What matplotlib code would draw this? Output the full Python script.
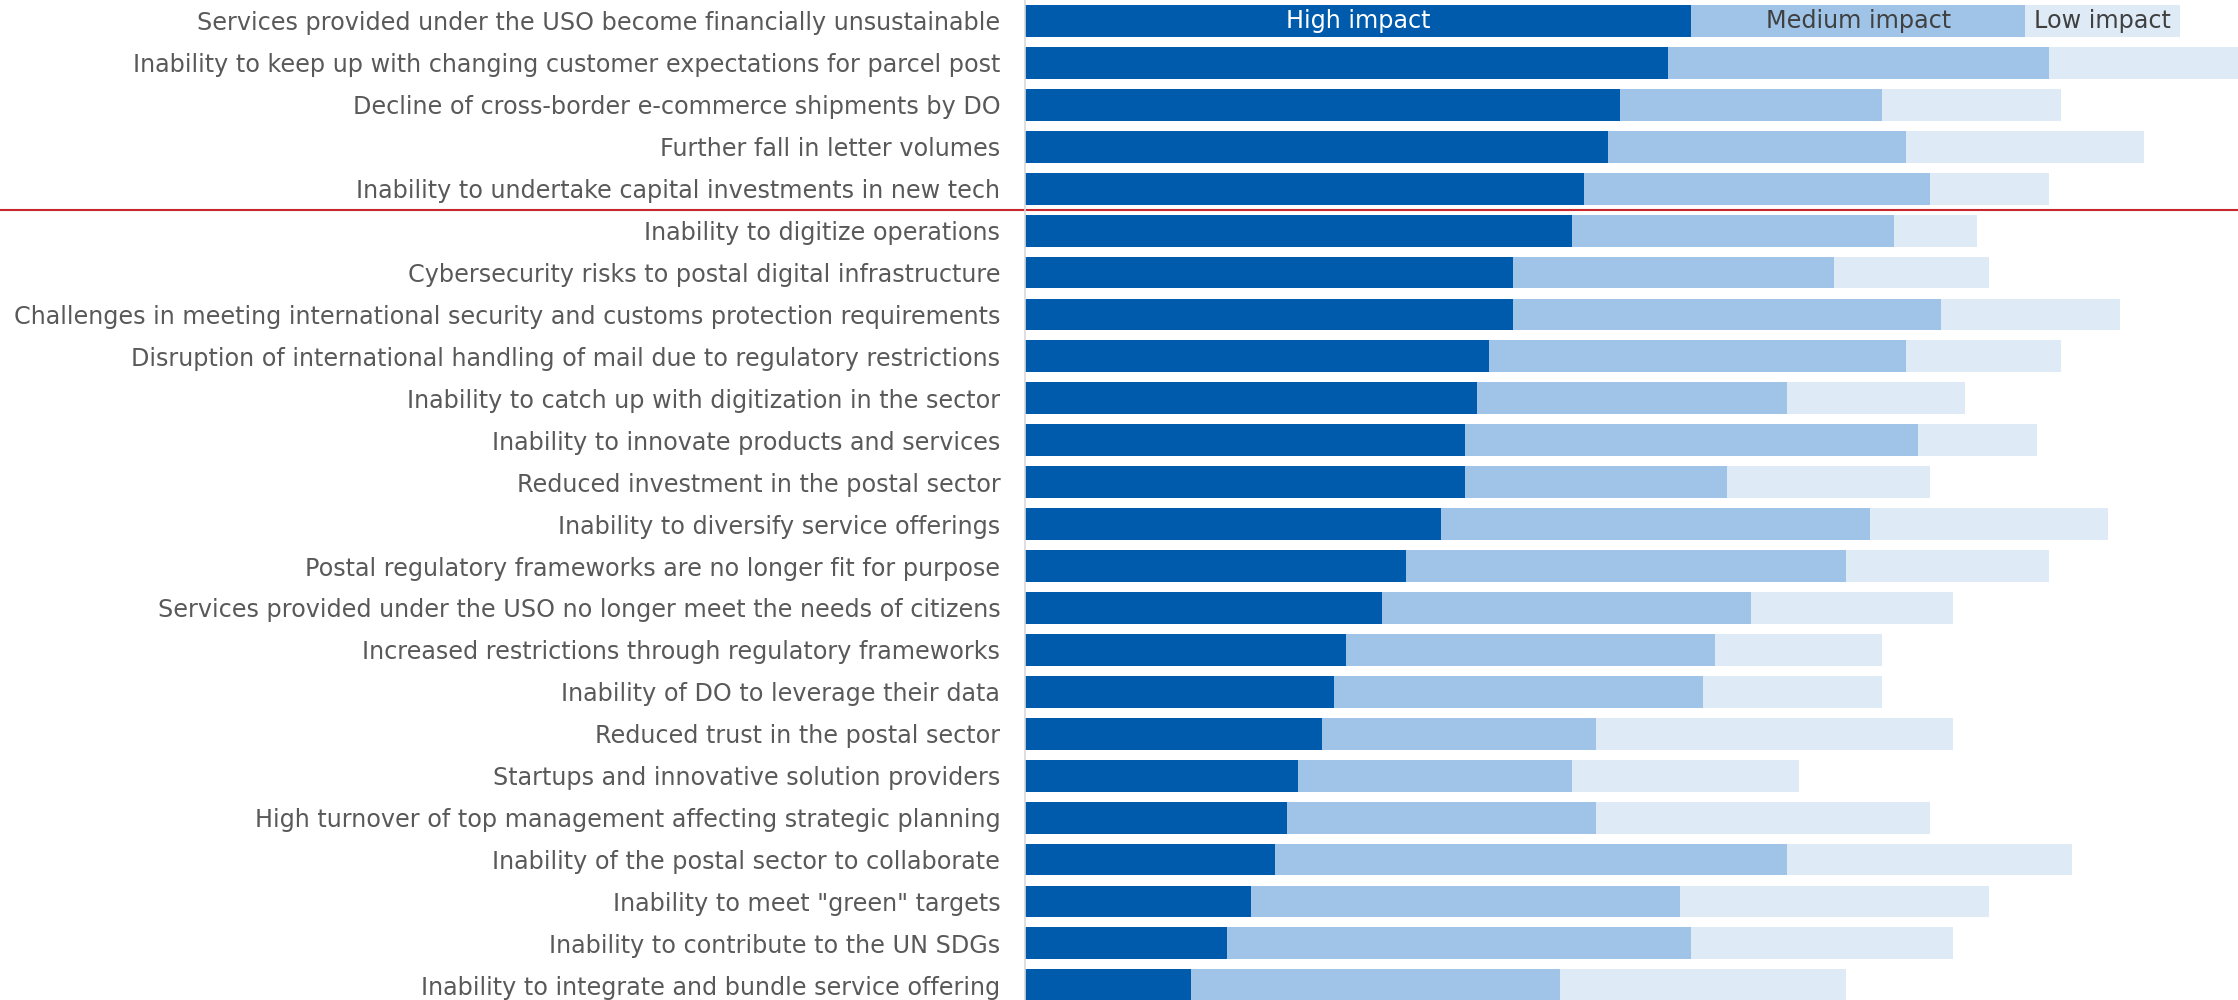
import numpy as np
import matplotlib
matplotlib.use('Agg')
import matplotlib.pyplot as plt

# Risks (top to bottom) and number of answers per impact level
risks = [
    'Services provided under the USO become financially unsustainable',
    'Inability to keep up with changing customer expectations for parcel post',
    'Decline of cross-border e-commerce shipments by DO',
    'Further fall in letter volumes',
    'Inability to undertake capital investments in new tech',
    'Inability to digitize operations',
    'Cybersecurity risks to postal digital infrastructure',
    'Challenges in meeting international security and customs protection requirements',
    'Disruption of international handling of mail due to regulatory restrictions',
    'Inability to catch up with digitization in the sector',
    'Inability to innovate products and services',
    'Reduced investment in the postal sector',
    'Inability to diversify service offerings',
    'Postal regulatory frameworks are no longer fit for purpose',
    'Services provided under the USO no longer meet the needs of citizens',
    'Increased restrictions through regulatory frameworks',
    'Inability of DO to leverage their data',
    'Reduced trust in the postal sector',
    'Startups and innovative solution providers',
    'High turnover of top management affecting strategic planning',
    'Inability of the postal sector to collaborate',
    'Inability to meet "green" targets',
    'Inability to contribute to the UN SDGs',
    'Inability to integrate and bundle service offering',
]
high = [56, 54, 50, 49, 47, 46, 41, 41, 39, 38, 37, 37, 35, 32, 30, 27, 26, 25, 23, 22, 21, 19, 17, 14]
medium = [28, 32, 22, 25, 29, 27, 27, 36, 35, 26, 38, 22, 36, 37, 31, 31, 31, 23, 23, 26, 43, 36, 39, 31]
low = [13, 18, 15, 20, 10, 7, 13, 15, 13, 15, 10, 17, 20, 17, 17, 14, 15, 30, 19, 28, 24, 26, 22, 24]
levels = ['High impact', 'Medium impact', 'Low impact']

c_high = '#005bac'
c_med = '#9fc4e7'
c_low = '#deeaf6'
fs = 17.2

fig = plt.figure(figsize=(22.38, 10), dpi=100)
ax = fig.add_axes([0.4578, 0.0, 0.5422, 1.0])

y = np.arange(len(risks))
high = np.array(high)
medium = np.array(medium)
low = np.array(low)

ax.barh(y, high, height=0.76, color=c_high)
ax.barh(y, medium, left=high, height=0.76, color=c_med)
ax.barh(y, low, left=high + medium, height=0.76, color=c_low)

# legend written inside the first bar
ax.text(high[0] / 2, 0, levels[0], color='white', fontsize=fs, ha='center', va='center')
ax.text(high[0] + medium[0] / 2, 0, levels[1], color='#404040', fontsize=fs, ha='center', va='center')
ax.text(high[0] + medium[0] + low[0] / 2, 0, levels[2], color='#404040', fontsize=fs, ha='center', va='center')

ax.set_xlim(0, 101.9)
ax.set_ylim(23.35, -0.5)
ax.set_yticks(y)
ax.set_yticklabels(risks, fontsize=fs, color='#595959')
ax.tick_params(axis='y', length=0, pad=17.5)
ax.set_xticks([])

for s in ['top', 'right', 'bottom']:
    ax.spines[s].set_visible(False)
ax.spines['left'].set_color('#d9d9d9')
ax.spines['left'].set_linewidth(1.2)

# red separator after the top five
ax.axhline(4.5, xmin=-0.845, xmax=1, color='#c8282d', linewidth=1.5, clip_on=False)

fig.savefig('out.png', dpi=100)
